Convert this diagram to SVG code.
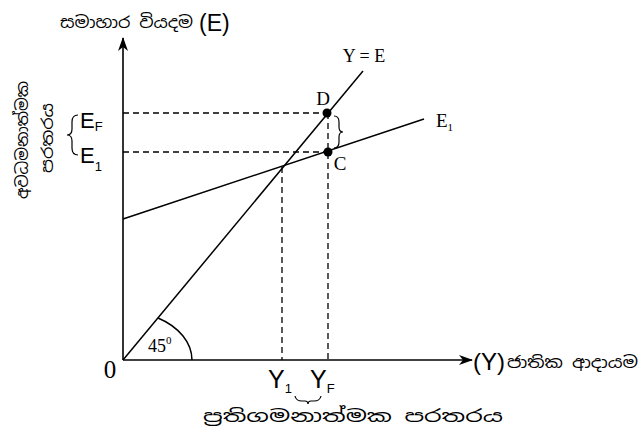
<svg xmlns="http://www.w3.org/2000/svg" width="641" height="446" viewBox="0 0 641 446">
<style>
.ax{stroke:#000;stroke-width:1.6;fill:none}
.ln{stroke:#000;stroke-width:1.5;fill:none}
.br{stroke:#000;stroke-width:1.2;fill:none}
.ds{stroke:#000;stroke-width:1.3;fill:none;stroke-dasharray:6 4}
.tm{font-family:"Liberation Serif",serif;fill:#000}
.ar{font-family:"Liberation Sans",Arial,sans-serif;fill:#000}
.si{font-family:"Noto Sans Sinhala","Iskoola Pota","Noto Sans",sans-serif;fill:#000}
</style>
<defs>
<marker id="ah" viewBox="0 0 14 10" refX="13" refY="5" markerWidth="14" markerHeight="10" markerUnits="userSpaceOnUse" orient="auto">
<path d="M0,0 L14,5 L0,10 L4,5 Z" fill="#000"/>
</marker>
</defs>
<rect width="641" height="446" fill="#fff"/>
<g id="connectors">
<line id="y-axis" class="ax" x1="123" y1="360" x2="123" y2="38" marker-end="url(#ah)"/>
<line id="x-axis" class="ax" x1="123" y1="360" x2="472" y2="360" marker-end="url(#ah)"/>
<line id="line-YE" class="ln" x1="123" y1="360" x2="363" y2="71"/>
<line id="line-E1" class="ln" x1="123" y1="219" x2="424" y2="119"/>
<line class="ds" x1="123" y1="113" x2="327" y2="113"/>
<line class="ds" x1="123" y1="152" x2="328" y2="152"/>
<line class="ds" x1="282" y1="167" x2="282" y2="360"/>
<line class="ds" x1="328" y1="113" x2="328" y2="360"/>
<path class="ln" d="M158,318 A69,49 0 0 1 192,360" stroke-width="1.3"/>
</g>
<g id="node-D">
<circle cx="327" cy="113" r="4.5" fill="#000"/>
<text class="tm" x="323" y="105" font-size="19" text-anchor="middle">D</text>
</g>
<g id="node-C">
<circle cx="328" cy="152" r="4.5" fill="#000"/>
<text class="tm" x="340" y="170" font-size="19" text-anchor="middle">C</text>
</g>
<g id="labels">
<text class="si" x="60" y="28" font-size="16" textLength="133" lengthAdjust="spacingAndGlyphs">සමාහාර වියදම</text>
<text class="ar" x="199" y="31" font-size="23">(E)</text>
<text class="tm" x="364" y="62" font-size="18" text-anchor="middle">Y = E</text>
<text class="tm" x="436" y="127" font-size="19">E<tspan font-size="11" dy="4">1</tspan></text>
<text class="tm" x="110" y="378" font-size="25" text-anchor="middle">0</text>
<text class="tm" x="148" y="352" font-size="18">45<tspan font-size="11" dy="-8">0</tspan></text>
<text class="ar" x="80" y="128" font-size="22">E<tspan font-size="13" dy="3">F</tspan></text>
<text class="ar" x="80" y="163" font-size="22">E<tspan font-size="13" dy="8">1</tspan></text>
<path class="br" d="M78,115 Q72,115 72,122 L72,129 Q72,135 67,135 Q72,135 72,141 L72,148 Q72,155 78,155"/>
<path class="br" d="M334,116 Q339,116 339,122 L339,127 Q339,132 343,132 Q339,132 339,137 L339,142 Q339,148 334,148"/>
<text class="ar" x="268" y="388" font-size="25">Y<tspan font-size="13" dy="5">1</tspan></text>
<text class="ar" x="310" y="388" font-size="25">Y<tspan font-size="13" dy="5">F</tspan></text>
<path class="br" d="M295,396 Q296,401 302,401 L305,401 Q308,401 308,404 Q308,401 311,401 L314,401 Q320,401 321,396"/>
<text class="ar" x="473" y="370" font-size="24">(Y)</text>
<text class="si" x="507" y="368" font-size="16" textLength="131" lengthAdjust="spacingAndGlyphs">ජාතික ආදායම</text>
<text class="si" x="203" y="422" font-size="17" textLength="300" lengthAdjust="spacingAndGlyphs">ප්‍රතිගමනාත්මක පරතරය</text>
<text class="si" font-size="16" text-anchor="middle" textLength="118" lengthAdjust="spacingAndGlyphs" transform="translate(28,140) rotate(-90)">අවධමනාත්මක</text>
<text class="si" font-size="16" text-anchor="middle" textLength="70" lengthAdjust="spacingAndGlyphs" transform="translate(53,138) rotate(-90)">පරතරය</text>
</g>
</svg>
